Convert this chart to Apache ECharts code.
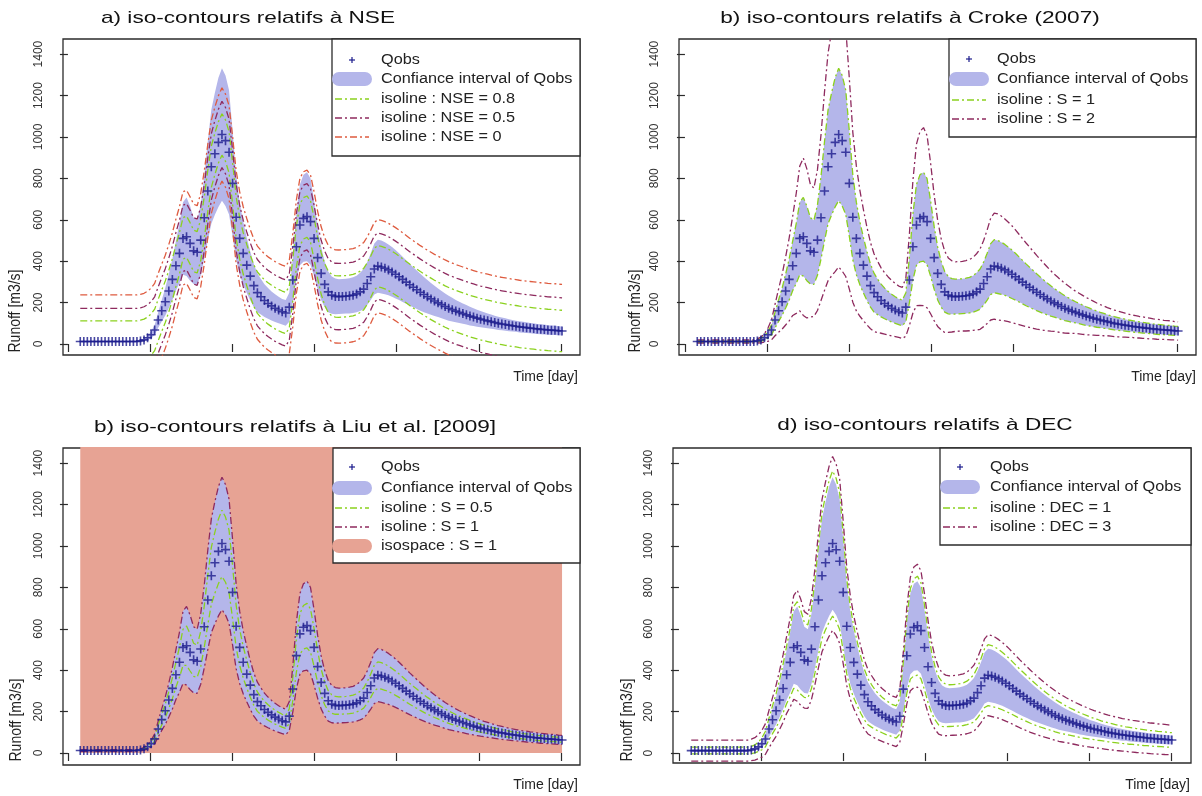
<!DOCTYPE html>
<html><head><meta charset="utf-8">
<script src="https://cdn.jsdelivr.net/npm/echarts@6/dist/echarts.min.js"></script>
<style>html,body{margin:0;padding:0;background:#fff}#c{width:1202px;height:796px}</style>
</head><body><div id="c"></div>
<script>
// ---------------- data ----------------
const qobs = [12,12,12,12,12,12,12,12,12,12,12,12,12,12,12,12,12,
  15,20,30,45,68,116,161,204,256,312,378,438,510,518,486,450,443,502,610,739,856,919,974,1012,
  982,926,776,612,510,438,381,328,282,248,228,210,196,184,173,164,156,150,178,309,470,575,607,615,
  591,510,417,341,288,252,236,230,229,230,231,233,236,242,252,265,292,325,362,376,372,366,358,348,
  337,325,312,299,286,274,262,250,239,228,218,208,199,190,181,173,166,159,153,147,141,135,130,125,
  120,116,112,108,104,100,97,94,91,88,86,83,81,79,77,75,73,71,70,68,67,66,64,63];
const ciHalf = [4,4,4,4,4,4,4,4,4,4,4,4,4,4,4,4,4,
  5,7,10,16,24,38,52,66,82,100,120,145,175,190,180,160,155,170,200,240,275,295,312,320,
  315,300,255,205,175,152,134,118,104,94,86,79,74,70,67,64,62,62,70,110,160,195,210,215,
  208,182,152,128,110,98,90,86,84,84,84,85,86,88,92,97,104,113,123,128,128,126,123,120,
  117,113,109,105,101,97,93,89,85,81,77,73,69,66,63,60,57,54,51,49,47,45,43,41,
  39,37,36,34,33,32,31,30,29,28,27,27,26,26,25,25,24,24,24,23,23,23,22,22];
const timeTicks = [0, 20, 40, 60, 80, 100, 120];
const runoffTicks = [0, 200, 400, 600, 800, 1000, 1200, 1400];
const tStart = 3.0, tStep = 0.862;          // days of first obs and time step
const nseOffsets = [100, 160, 225];         // isolines NSE = 0.8, 0.5, 0
const crokeFactors = [1, 2];                // S = 1, S = 2
const liuFactors = [0.5, 1];                // S = 0.5, S = 1
const decFactors = [1.057, 1.168];          // DEC = 1, DEC = 3 (times CI half width)
const decShifts = [12, 46];                 // DEC = 1, DEC = 3 (constant part)
const titles = ['a) iso-contours relatifs à NSE', 'b) iso-contours relatifs à Croke (2007)',
  'b) iso-contours relatifs à Liu et al. [2009]', 'd) iso-contours relatifs à DEC'];

// ---------------- styling / layout ----------------
const C = {green:'#8bd11e', purple:'#8e2a5e', red:'#de5b3f', band:'#b4b6ea', salmon:'#e7a394', qobs:'#1c1c8c', ink:'#2b2b2b'};
const DASH = [7, 3, 2, 3];
const FONT = '"Liberation Sans", Arial, sans-serif';
const grids = [
  {left:63, top:39, width:517, height:316},
  {left:679, top:39, width:517, height:316},
  {left:63, top:448, width:517, height:317},
  {left:673, top:448, width:518, height:315}
];
const xRange = [[-1.2,124.6],[-1.45,124.6],[-1.2,124.6],[-1.45,124.9]];
const yRange = [[-53,1473],[-53,1473],[-58,1473],[-48,1473]];

const N = qobs.length;
const days = qobs.map((_, i) => tStart + i * tStep);
const pts = arr => arr.map((v, i) => [days[i], v]);
const lowerCI = qobs.map((q, i) => q - ciHalf[i]);
const upperCI = qobs.map((q, i) => q + ciHalf[i]);
const shifted = (f) => [qobs.map((q, i) => q + f(i)), qobs.map((q, i) => q - f(i))];

function bandSeries(k) {
  return {type:'custom', xAxisIndex:k, yAxisIndex:k, clip:true, silent:true, z:2,
    data: days.map((d, i) => [d, lowerCI[i], upperCI[i]]),
    encode:{x:0, y:[1, 2]},
    renderItem: (params, api) => {
      if (params.dataIndex !== 0) return null;
      const top = [], bot = [];
      for (let i = 0; i < N; i++) {
        top.push(api.coord([days[i], upperCI[i]]));
        bot.unshift(api.coord([days[i], lowerCI[i]]));
      }
      return {type:'polygon', shape:{points: top.concat(bot)}, style:{fill:C.band}};
    }};
}
function iso(k, vals, color) {
  return {type:'line', xAxisIndex:k, yAxisIndex:k, data:pts(vals), symbol:'none', clip:true,
    lineStyle:{color, width:1.3, type:DASH}, silent:true, z:3};
}
const PLUS = 'path://M0,4.1H10V5.9H0Z M4.1,0H5.9V10H4.1Z';
function obsSeries(k) {
  return {type:'scatter', xAxisIndex:k, yAxisIndex:k, data:pts(qobs), symbol:PLUS, symbolSize:9,
    itemStyle:{color:C.qobs}, silent:true, z:4};
}

const series = [];
// panel a : NSE
series.push(bandSeries(0));
[C.green, C.purple, C.red].forEach((col, j) => {
  shifted(() => nseOffsets[j]).forEach(v => series.push(iso(0, v, col)));
});
series.push(obsSeries(0));
// panel b : Croke
series.push(bandSeries(1));
[C.green, C.purple].forEach((col, j) => {
  shifted(i => crokeFactors[j] * ciHalf[i]).forEach(v => series.push(iso(1, v, col)));
});
series.push(obsSeries(1));
// panel c : Liu
series.push({type:'line', xAxisIndex:2, yAxisIndex:2, symbol:'none', silent:true, z:1,
  data:[[days[0], yRange[2][1] + 200], [days[N-1], yRange[2][1] + 200]],
  lineStyle:{opacity:0}, areaStyle:{color:C.salmon, opacity:1}});
series.push(bandSeries(2));
series.push(obsSeries(2));
[C.green, C.purple].forEach((col, j) => {
  shifted(i => liuFactors[j] * ciHalf[i]).forEach(v => series.push(iso(2, v, col)));
});
// panel d : DEC
series.push(bandSeries(3));
[C.green, C.purple].forEach((col, j) => {
  shifted(i => decFactors[j] * ciHalf[i] + decShifts[j]).forEach(v => series.push(iso(3, v, col)));
});
series.push(obsSeries(3));

const xAxis = grids.map((g, k) => ({gridIndex:k, type:'value', min:xRange[k][0], max:xRange[k][1],
  axisLine:{show:false}, splitLine:{show:false},
  axisTick:{show:true, length:8, customValues:timeTicks, lineStyle:{color:C.ink, width:1.2}},
  axisLabel:{show:false}}));
const yAxis = grids.map((g, k) => ({gridIndex:k, type:'value', min:yRange[k][0], max:yRange[k][1],
  axisLine:{show:false}, splitLine:{show:false},
  axisTick:{show:true, length:8, customValues:runoffTicks, lineStyle:{color:C.ink, width:1.2}},
  axisLabel:{show:true, customValues:runoffTicks, rotate:90, margin:18, fontSize:12,
    color:'#333', fontFamily:FONT, formatter: v => String(v)}}));

// ---------------- text & legends ----------------
const graphic = [];
function txt(x, y, text, size, sx, align, color) {
  graphic.push({type:'text', x, y, z:100, scaleX:sx,
    style:{text, font:size + 'px ' + FONT, fill:color || '#222', textAlign:align || 'left', textVerticalAlign:'middle'}});
}
const titlePos = [[248, 18], [910, 18], [295, 427], [925, 425]];
titles.forEach((t, k) => txt(titlePos[k][0], titlePos[k][1], t, 17, 1.33, 'center', '#111'));
const runoffPos = [[15, 311], [635, 311], [16, 720], [627, 720]];
runoffPos.forEach(p => graphic.push({type:'text', x:p[0], y:p[1], rotation:Math.PI/2, scaleY:1.2, z:100,
  style:{text:'Runoff [m3/s]', font:'14px ' + FONT, fill:'#222', textAlign:'center', textVerticalAlign:'middle'}}));
const timePos = [[578, 377], [1196, 377], [578, 785], [1190, 785]];
timePos.forEach(p => txt(p[0], p[1], 'Time [day]', 14, 1.0, 'right'));

function legend(box, symC, textX, rows) {
  graphic.push({type:'rect', z:99, shape:{x:box[0], y:box[1], width:box[2]-box[0], height:box[3]-box[1]},
    style:{fill:'#fff', stroke:C.ink, lineWidth:1.3}});
  rows.forEach(r => {
    if (r.kind === 'plus') {
      graphic.push({type:'line', z:100, shape:{x1:symC-3, y1:r.y, x2:symC+3, y2:r.y}, style:{stroke:C.qobs, lineWidth:1.2}});
      graphic.push({type:'line', z:100, shape:{x1:symC, y1:r.y-3, x2:symC, y2:r.y+3}, style:{stroke:C.qobs, lineWidth:1.2}});
    } else if (r.kind === 'rect') {
      graphic.push({type:'rect', z:100, shape:{x:symC-20, y:r.y-7, width:40, height:14, r:7}, style:{fill:r.color}});
    } else {
      graphic.push({type:'line', z:100, shape:{x1:symC-17, y1:r.y, x2:symC+17, y2:r.y},
        style:{stroke:r.color, lineWidth:1.3, lineDash:DASH}});
    }
    txt(textX, r.y, r.label, 14, 1.16);
  });
}
legend([332, 39, 580, 156], 352, 381, [
  {kind:'plus', y:60, label:'Qobs'},
  {kind:'rect', y:79, color:C.band, label:'Confiance interval of Qobs'},
  {kind:'line', y:99, color:C.green, label:'isoline : NSE = 0.8'},
  {kind:'line', y:118, color:C.purple, label:'isoline : NSE = 0.5'},
  {kind:'line', y:137, color:C.red, label:'isoline : NSE = 0'}]);
legend([949, 39, 1196, 137], 969, 997, [
  {kind:'plus', y:59, label:'Qobs'},
  {kind:'rect', y:79, color:C.band, label:'Confiance interval of Qobs'},
  {kind:'line', y:100, color:C.green, label:'isoline : S = 1'},
  {kind:'line', y:119, color:C.purple, label:'isoline : S = 2'}]);
legend([333, 448, 580, 563], 352, 381, [
  {kind:'plus', y:467, label:'Qobs'},
  {kind:'rect', y:488, color:C.band, label:'Confiance interval of Qobs'},
  {kind:'line', y:508, color:C.green, label:'isoline : S = 0.5'},
  {kind:'line', y:527, color:C.purple, label:'isoline : S = 1'},
  {kind:'rect', y:546, color:C.salmon, label:'isospace : S = 1'}]);
legend([940, 448, 1191, 545], 960, 990, [
  {kind:'plus', y:467, label:'Qobs'},
  {kind:'rect', y:487, color:C.band, label:'Confiance interval of Qobs'},
  {kind:'line', y:508, color:C.green, label:'isoline : DEC = 1'},
  {kind:'line', y:527, color:C.purple, label:'isoline : DEC = 3'}]);

const chart = echarts.init(document.getElementById('c'), null, {renderer:'canvas'});
chart.setOption({
  animation:false, backgroundColor:'#fff',
  grid: grids.map(g => Object.assign({show:true, borderColor:C.ink, borderWidth:1.3, backgroundColor:'transparent'}, g)),
  xAxis, yAxis, series, graphic
});
</script></body></html>
